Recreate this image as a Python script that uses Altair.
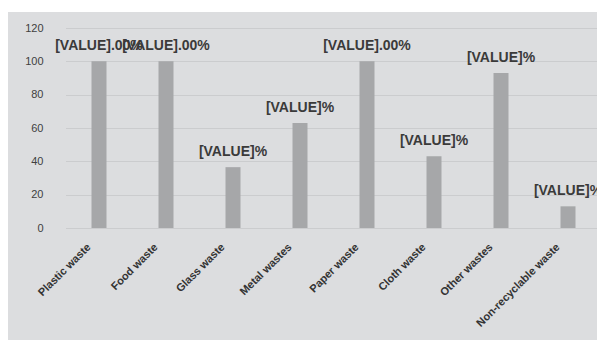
import altair as alt
import pandas as pd

categories = ["Plastic waste", "Food waste", "Glass waste", "Metal wastes",
              "Paper waste", "Cloth waste", "Other wastes", "Non-recyclable waste"]
values = [100, 100, 36.5, 63, 100, 43, 93, 13]
labels = ["[VALUE].00%", "[VALUE].00%", "[VALUE]%", "[VALUE]%",
          "[VALUE].00%", "[VALUE]%", "[VALUE]%", "[VALUE]%"]
y_ticks = [0, 20, 40, 60, 80, 100, 120]

df = pd.DataFrame({"cat": categories, "val": values, "lab": labels})

BG = "#dcdddf"
W, H = 537, 200

x_enc = alt.X("cat:N", sort=categories,
              scale=alt.Scale(range=[10.5, 546.5]),
              axis=alt.Axis(title=None, labelAngle=-45, labelAlign="right",
                            labelBaseline="top", labelFont="Liberation Sans",
                            labelFontSize=11, labelColor="#333333",
                            labelFontWeight="bold", labelOverlap=False,
                            labelOffset=-14, labelPadding=13,
                            ticks=False, domain=False, grid=False))
y_enc = alt.Y("val:Q", scale=alt.Scale(domain=[0, 120], nice=False),
              axis=alt.Axis(title=None, values=y_ticks, labelFont="Liberation Sans",
                            labelFontSize=11, labelColor="#404040",
                            labelOverlap=False, labelFlush=False,
                            labelPadding=12, ticks=False, domain=False,
                            grid=True, gridColor="#cbccce", gridWidth=1))

base = alt.Chart(df).encode(x=x_enc, y=y_enc)

bars = base.mark_bar(size=15, color="#a6a7a9")

text = base.mark_text(font="Liberation Sans", fontSize=14, fontWeight="bold",
                      color="#3a3a3a", dy=-15).encode(text="lab:N")

# white margins around the grey panel
top_strip = alt.Chart(df).mark_rect(color="white").encode(
    x=alt.value(-60), x2=alt.value(W + 10), y=alt.value(-30), y2=alt.value(-16))
left_strip = alt.Chart(df).mark_rect(color="white").encode(
    x=alt.value(-60), x2=alt.value(-47), y=alt.value(-30), y2=alt.value(H + 120))
bottom_strip = alt.Chart(df).mark_rect(color="white").encode(
    x=alt.value(-60), x2=alt.value(W + 10), y=alt.value(H + 112), y2=alt.value(H + 120))

chart = alt.layer(bars, text, top_strip, left_strip, bottom_strip).properties(
    width=W, height=H,
    autosize=alt.AutoSizeParams(type="none"),
    padding={"left": 55, "top": 28, "right": 5, "bottom": 114},
    background=BG,
).configure_view(stroke=None)

chart.save("out.html", embed_options={"renderer": "svg", "actions": False})
